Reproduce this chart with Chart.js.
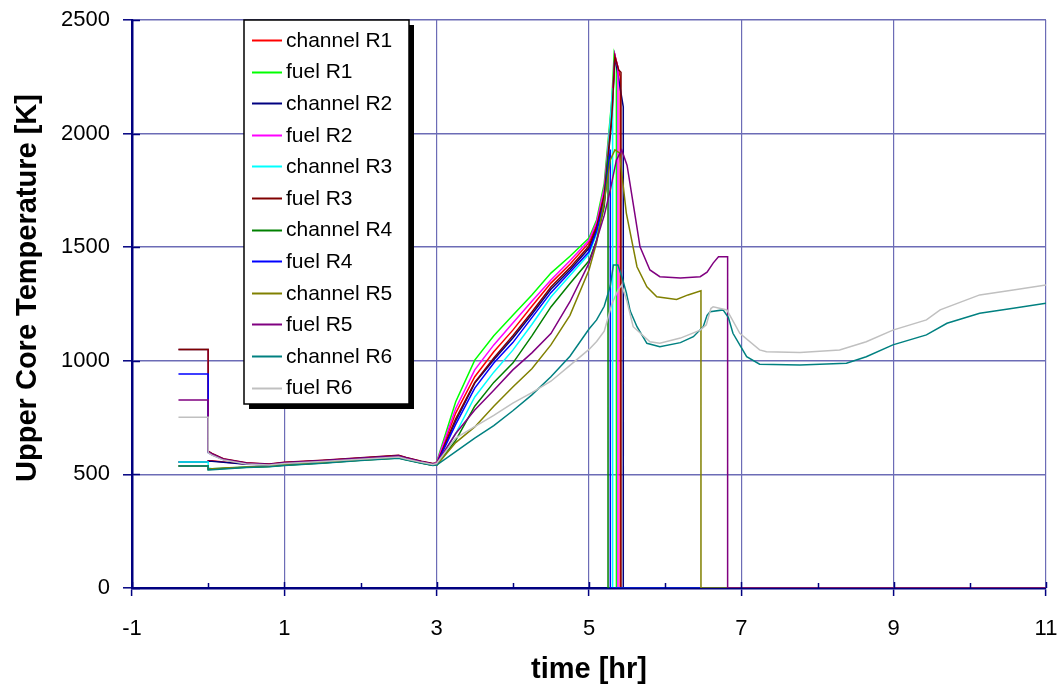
<!DOCTYPE html>
<html>
<head>
<meta charset="utf-8">
<script src="https://cdn.jsdelivr.net/npm/chart.js@4"></script>
<style>
  body { margin: 0; background: #fff; }
  #wrap { width: 1061px; height: 695px; }
</style>
</head>
<body>
<div id="wrap"><canvas id="coreChart" width="1061" height="695"></canvas></div>
<script>
// series names and colours, in the order of the legend
var seriesNames = ['channel R1', 'fuel R1', 'channel R2', 'fuel R2', 'channel R3', 'fuel R3',
                   'channel R4', 'fuel R4', 'channel R5', 'fuel R5', 'channel R6', 'fuel R6'];
var seriesColors = ['#FF0000', '#00FF00', '#000080', '#FF00FF', '#00FFFF', '#800000',
                    '#008000', '#0000FF', '#808000', '#800080', '#008080', '#C0C0C0'];

var xTicks = [-1, 1, 3, 5, 7, 9, 11];
var xMinorTicks = [0, 2, 4, 6, 8, 10];

// times [hr] shared by all series, start up to t=3
var tEarly = [-0.39, 0, 0, 0.05, 0.2, 0.5, 0.8, 1.0, 1.5, 2.0, 2.5, 2.6, 2.8, 2.95];
var earlyValues = [
  [555, 555, 560, 560, 555, 546, 542, 549, 558, 569, 579, 570, 554, 545],
  [1050, 1050, 598, 588, 566, 548, 543, 551, 560, 571, 582, 572, 556, 546],
  [555, 555, 558, 558, 553, 545, 541, 548, 557, 568, 578, 569, 553, 544],
  [1050, 1050, 600, 590, 568, 550, 545, 552, 561, 572, 583, 573, 557, 547],
  [555, 555, 528, 525, 527, 533, 536, 541, 552, 564, 574, 566, 551, 541],
  [1050, 1050, 602, 592, 569, 551, 546, 553, 562, 573, 584, 574, 558, 548],
  [537, 537, 522, 523, 526, 532, 535, 540, 550, 562, 572, 564, 550, 540],
  [942, 942, 596, 586, 565, 548, 543, 550, 559, 570, 580, 571, 555, 545],
  [537, 537, 524, 525, 528, 533, 536, 541, 551, 563, 573, 565, 550, 540],
  [827, 827, 600, 590, 567, 549, 544, 551, 560, 571, 581, 572, 556, 546],
  [537, 537, 520, 521, 524, 530, 534, 539, 549, 561, 571, 563, 549, 539],
  [752, 752, 595, 585, 563, 546, 541, 548, 557, 567, 577, 568, 553, 544]
];

// heat-up from t=3
var tRise = [3.0, 3.25, 3.5, 3.75, 4.0, 4.25, 4.5, 4.75, 5.0, 5.1, 5.2];
var riseValues = [
  [550, 770, 930, 1040, 1135, 1240, 1342, 1425, 1520, 1600, 1740],
  [555, 820, 1003, 1110, 1200, 1290, 1386, 1460, 1540, 1620, 1780],
  [548, 735, 902, 1005, 1100, 1205, 1315, 1400, 1495, 1580, 1720],
  [552, 790, 960, 1070, 1166, 1262, 1356, 1440, 1530, 1610, 1760],
  [542, 680, 841, 950, 1047, 1160, 1281, 1375, 1470, 1560, 1690],
  [548, 745, 905, 1012, 1110, 1215, 1325, 1410, 1505, 1590, 1730],
  [540, 650, 800, 905, 990, 1110, 1237, 1340, 1440, 1530, 1680],
  [545, 720, 880, 990, 1080, 1190, 1300, 1390, 1480, 1570, 1700],
  [540, 640, 709, 800, 885, 965, 1070, 1200, 1400, 1520, 1700],
  [548, 680, 783, 870, 960, 1035, 1120, 1260, 1430, 1530, 1640],
  [541, 600, 660, 715, 780, 850, 930, 1020, 1140, 1180, 1240],
  [548, 660, 710, 760, 814, 860, 910, 980, 1050, 1085, 1130]
];

// peak, failure and late phase, own times per series
var tailTimes = [
  [5.3, 5.34, 5.41, 5.41, 11],
  [5.3, 5.33, 5.36, 5.36, 11],
  [5.3, 5.34, 5.45, 5.45, 11],
  [5.3, 5.34, 5.38, 5.38, 11],
  [5.31, 5.31, 11],
  [5.3, 5.34, 5.39, 5.42, 5.42, 11],
  [5.25, 5.25, 11],
  [5.28, 5.28, 11],
  [5.28, 5.34, 5.40, 5.49, 5.63, 5.76, 5.89, 6.15, 6.3, 6.47, 6.47, 11],
  [5.28, 5.36, 5.43, 5.5, 5.6, 5.67, 5.8, 5.93, 6.2, 6.46, 6.55, 6.63, 6.70, 6.82, 6.82, 11],
  [5.28, 5.32, 5.38, 5.44, 5.49, 5.54, 5.63, 5.76, 5.93, 6.2, 6.37, 6.5, 6.55, 6.59, 6.76, 6.83,
   6.89, 7.07, 7.24, 7.77, 8.38, 8.64, 8.99, 9.43, 9.7, 10.13, 10.57, 11],
  [5.3, 5.38, 5.43, 5.5, 5.58, 5.8, 5.93, 6.2, 6.46, 6.54, 6.6, 6.63, 6.81, 6.98, 7.24, 7.33,
   7.77, 8.29, 8.64, 8.99, 9.43, 9.61, 10.13, 10.57, 11]
];
var tailValues = [
  [2100, 2345, 2250, 0, 0],
  [2150, 2350, 2300, 0, 0],
  [2060, 2340, 2118, 0, 0],
  [2120, 2345, 2290, 0, 0],
  [2200, 0, 0],
  [2080, 2340, 2280, 2270, 0, 0],
  [1900, 0, 0],
  [1930, 0, 0],
  [1884, 1928, 1915, 1650, 1414, 1326, 1282, 1270, 1290, 1308, 0, 0],
  [1752, 1884, 1928, 1860, 1650, 1502, 1400, 1370, 1364, 1370, 1390, 1430, 1458, 1458, 0, 0],
  [1330, 1422, 1422, 1360, 1300, 1220, 1150, 1077, 1062, 1080, 1106, 1150, 1200, 1216, 1224, 1190,
   1121, 1018, 985, 981, 989, 1018, 1070, 1114, 1165, 1209, 1231, 1253],
  [1250, 1310, 1334, 1260, 1150, 1084, 1077, 1100, 1135, 1158, 1230, 1238, 1224, 1121, 1048, 1040,
   1036, 1048, 1084, 1135, 1180, 1224, 1290, 1312, 1334]
];

function toPoints(ts, vs) {
    return ts.map(function (t, k) { return {x: t, y: vs[k]}; });
}

var datasets = seriesNames.map(function (name, i) {
    return {
        label: name,
        data: toPoints(tEarly, earlyValues[i])
            .concat(toPoints(tRise, riseValues[i]))
            .concat(toPoints(tailTimes[i], tailValues[i])),
        borderColor: seriesColors[i],
        backgroundColor: seriesColors[i],
        borderWidth: 1.5,
        pointRadius: 0,
        tension: 0,
        fill: false,
        order: seriesNames.length - i   // later series on top, like the original
    };
});

var FONT = '"Liberation Sans", Arial, sans-serif';
var AXIS = '#000080';
var GRID = '#6c6cb6';

// minor ticks, inner tick marks, axis titles and the boxed legend
var decorations = {
    id: 'decorations',
    afterDraw: function (chart) {
        var ctx = chart.ctx;
        var xs = chart.scales.x, ys = chart.scales.y;
        var area = chart.chartArea;
        ctx.save();
        ctx.strokeStyle = AXIS;
        ctx.lineWidth = 1.5;
        xMinorTicks.forEach(function (v) {
            var px = Math.round(xs.getPixelForValue(v)) + 0.5;
            ctx.beginPath(); ctx.moveTo(px, area.bottom); ctx.lineTo(px, area.bottom - 5); ctx.stroke();
        });
        xTicks.forEach(function (v) {
            var px = Math.round(xs.getPixelForValue(v)) + 0.5;
            ctx.beginPath(); ctx.moveTo(px, area.bottom); ctx.lineTo(px, area.bottom - 6); ctx.stroke();
        });
        ys.ticks.forEach(function (t) {
            var py = Math.round(ys.getPixelForValue(t.value)) + 0.5;
            ctx.beginPath(); ctx.moveTo(area.left, py); ctx.lineTo(area.left + 8, py); ctx.stroke();
        });

        // axis titles
        ctx.fillStyle = '#000';
        ctx.font = 'bold 29px ' + FONT;
        ctx.textAlign = 'center';
        ctx.textBaseline = 'middle';
        ctx.fillText('time [hr]', (area.left + area.right) / 2, 670);
        ctx.translate(28, 288);
        ctx.rotate(-Math.PI / 2);
        ctx.fillText('Upper Core Temperature [K]', 0, 0);
        ctx.setTransform(1, 0, 0, 1, 0, 0);

        // legend box with shadow
        var bx = 244, by = 20, bw = 165, bh = 384;
        ctx.fillStyle = '#000';
        ctx.fillRect(bx + 5, by + 5, bw, bh);
        ctx.fillStyle = '#fff';
        ctx.fillRect(bx, by, bw, bh);
        ctx.strokeStyle = '#000';
        ctx.lineWidth = 1.5;
        ctx.strokeRect(bx, by, bw, bh);
        ctx.font = '21px ' + FONT;
        ctx.textAlign = 'left';
        chart.data.datasets.forEach(function (ds, i) {
            var cy = 40 + i * 31.6;
            ctx.strokeStyle = ds.borderColor;
            ctx.lineWidth = 2;
            ctx.beginPath(); ctx.moveTo(252, Math.round(cy) + 0.5); ctx.lineTo(282, Math.round(cy) + 0.5); ctx.stroke();
            ctx.fillStyle = '#000';
            ctx.fillText(ds.label, 286, cy + 1);
        });
        ctx.restore();
    }
};

new Chart(document.getElementById('coreChart'), {
    type: 'line',
    data: { datasets: datasets },
    options: {
        responsive: false,
        animation: false,
        events: [],
        layout: { padding: { top: 20, right: 15, left: 0, bottom: 0 } },
        plugins: { legend: { display: false }, tooltip: { enabled: false } },
        scales: {
            x: {
                type: 'linear',
                min: -1,
                max: 11,
                afterBuildTicks: function (scale) {
                    scale.ticks = xTicks.map(function (v) { return {value: v}; });
                },
                afterFit: function (scale) {
                    scale.height = 107;
                    scale.paddingLeft = 0; scale.paddingRight = 0;
                },
                ticks: {
                    color: '#000',
                    font: { family: FONT, size: 22 },
                    padding: 20,
                    maxRotation: 0,
                    callback: function (v) { return String(v); }
                },
                grid: { color: GRID, lineWidth: 1.2, tickLength: 8, tickColor: AXIS, tickWidth: 1.5 },
                border: { color: AXIS, width: 2.5 }
            },
            y: {
                min: 0,
                max: 2500,
                afterFit: function (scale) {
                    scale.width = 132;
                    scale.paddingTop = 0; scale.paddingBottom = 0;
                },
                ticks: {
                    stepSize: 500,
                    color: '#000',
                    font: { family: FONT, size: 22 },
                    padding: 13,
                    callback: function (v) { return String(v); }
                },
                grid: { color: GRID, lineWidth: 1.6, tickLength: 9, tickColor: AXIS, tickWidth: 1.5 },
                border: { color: AXIS, width: 2.5 }
            }
        }
    },
    plugins: [decorations]
});
</script>
</body>
</html>
